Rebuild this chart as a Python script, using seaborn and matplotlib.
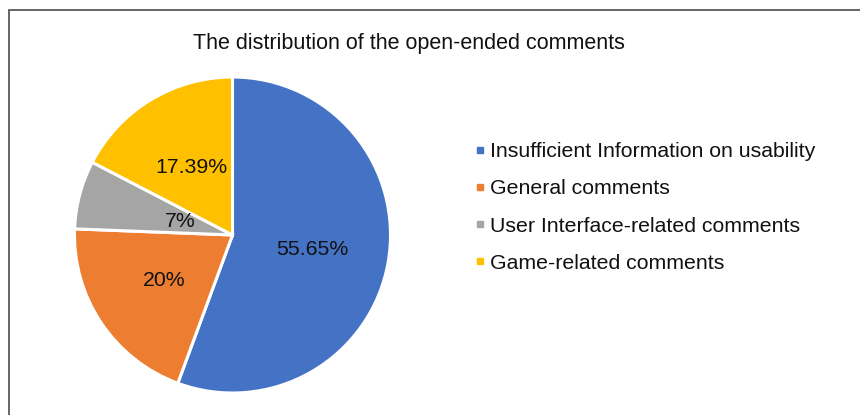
import numpy as np
import matplotlib
matplotlib.use("Agg")
import matplotlib.pyplot as plt
from matplotlib.lines import Line2D
from matplotlib.patches import Rectangle
import seaborn as sns

# ---- data ----
categories = ["Insufficient Information on usability", "General comments",
              "User Interface-related comments", "Game-related comments"]
values = [55.65, 20, 7, 17.39]
value_labels = ["55.65%", "20%", "7%", "17.39%"]
title = "The distribution of the open-ended comments"

sns.set_theme(style="white")
plt.rcParams["font.family"] = ["Liberation Sans", "DejaVu Sans"]
palette = sns.color_palette(["#4472C4", "#ED7D31", "#A5A5A5", "#FFC000"])

W, H = 860, 415
fig = plt.figure(figsize=(W / 100, H / 100), dpi=100)
fig.patch.set_facecolor("white")

FS = 15.3

# pie axes: centre (232.5, 235) px, radius 158 px
cx, cy, r = 232.5, 235, 158
ax = fig.add_axes([(cx - r) / W, (H - cy - r) / H, 2 * r / W, 2 * r / H])
wedges, _ = ax.pie(values, colors=palette, startangle=90, counterclock=False,
                   wedgeprops=dict(edgecolor="white", linewidth=2.2))
ax.set_xlim(-1, 1)
ax.set_ylim(-1, 1)
ax.set_aspect("equal")
ax.axis("off")

# value labels at mid-angle of each wedge
label_dist = [0.51, 0.52, 0.34, 0.50]
for w, txt, d in zip(wedges, value_labels, label_dist):
    mid = np.deg2rad((w.theta1 + w.theta2) / 2)
    ax.text(d * np.cos(mid), d * np.sin(mid), txt, ha="center", va="center",
            fontsize=FS, color="#111111")

# title
fig.text(409 / W, 1 - 43 / H, title, ha="center", va="center",
         fontsize=15.5, color="#111111")

# legend
handles = [Line2D([0], [0], marker="s", linestyle="", markersize=4.5,
                  markerfacecolor=c, markeredgecolor=c) for c in palette]
leg = fig.legend(handles, categories, loc="center left",
                 bbox_to_anchor=(475 / W, 1 - 207.5 / H), frameon=False,
                 fontsize=FS, handlelength=0.5, handletextpad=0.2,
                 labelspacing=0.85, borderpad=0, borderaxespad=0)
for t in leg.get_texts():
    t.set_color("#111111")

# outer frame (cropped at right and bottom)
fig.patches.append(Rectangle((8.5 / W, -0.1), 1.2, 1.1 - 10.5 / H,
                             transform=fig.transFigure, fill=False,
                             edgecolor="#595959", linewidth=1.3))

fig.savefig("out.png", dpi=100, facecolor="white")
